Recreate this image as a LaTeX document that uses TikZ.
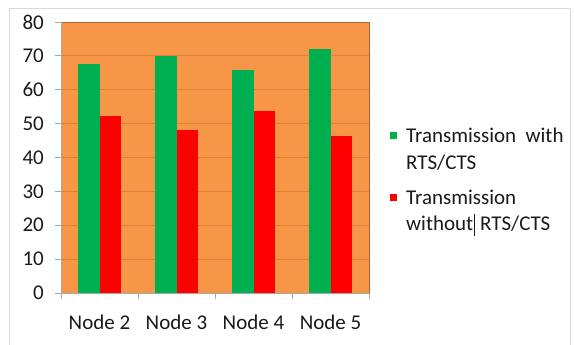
\documentclass[tikz,border=0pt]{standalone}
\usepackage{fontspec}
\setmainfont{Carlito}
\definecolor{plotbg}{HTML}{F79646}
\definecolor{gridc}{HTML}{D9803F}
\definecolor{bargreen}{HTML}{00B050}
\definecolor{barred}{HTML}{FF0000}
\definecolor{framec}{HTML}{D9D9D9}
\definecolor{axisc}{HTML}{A6A6A6}
\definecolor{txt}{HTML}{1A1A1A}
\begin{document}
\begin{tikzpicture}[x=1pt,y=-1pt,
  lbl/.style={font=\fontsize{21}{25}\selectfont, text=txt, inner sep=0pt},
  gbar/.style={fill=bargreen, draw=none},
  rbar/.style={fill=barred, draw=none},
  gridline/.style={draw=gridc, line width=0.8pt},
  axisline/.style={draw=axisc, line width=0.8pt}]
\useasboundingbox (0,0) rectangle (574,345);
\fill[white] (0,0) rectangle (574,345);
% outer chart frame
\draw[framec, line width=1pt] (9,346) -- (9,9) -- (570,9) -- (570,346);
% plot area
\fill[plotbg] (61,22) rectangle (369,293);
% gridlines and y labels
\foreach \v in {0,10,...,80} {
  \pgfmathsetmacro{\yy}{293-3.3875*\v}
  \ifnum\v>0 \draw[gridline] (61,\yy) -- (369,\yy); \fi
  \draw[axisline] (55,\yy) -- (61,\yy);
  \node[lbl, anchor=east] (y\v) at (44,\yy) {\v};
}
\draw[draw=gridc!80!black, line width=0.8pt] (61,22) -- (369,22) -- (369,293);
% bars
\foreach \i/\g/\r in {0/67.5/52.3, 1/69.9/48.1, 2/65.8/53.7, 3/71.9/46.3} {
  \pgfmathsetmacro{\xc}{99.5+77*\i}
  \pgfmathsetmacro{\gy}{293-3.3875*\g}
  \pgfmathsetmacro{\ry}{293-3.3875*\r}
  \fill[gbar] (\xc-21.5,\gy) rectangle (\xc,293);
  \fill[rbar] (\xc,\ry) rectangle (\xc+21.5,293);
}
% axes
\draw[axisline] (61,22) -- (61,293);
\draw[axisline] (61,293) -- (369,293);
\foreach \t in {0,1,2,3,4} {
  \draw[axisline] (61+77*\t,293) -- (61+77*\t,299);
}
% category labels
\node[lbl] (n2) at (99.5,322) {Node 2};
\node[lbl] (n3) at (176.5,322) {Node 3};
\node[lbl] (n4) at (253.5,322) {Node 4};
\node[lbl] (n5) at (330.5,322) {Node 5};
% legend
\fill[bargreen] (390,132) rectangle (397,139);
\node[lbl, anchor=west] (l1a) at (406,135) {Transmission\hspace{0.45em}with};
\node[lbl, anchor=west] (l1b) at (406,163) {RTS/CTS};
\fill[barred] (390,194) rectangle (397,201);
\node[lbl, anchor=west] (l2a) at (406,197) {Transmission};
\node[lbl, anchor=west] (l2b) at (406,225) {without\hspace{0.05em}\rule[-0.25em]{0.7pt}{1.05em}\hspace{0.25em}RTS/CTS};
\end{tikzpicture}
\end{document}
